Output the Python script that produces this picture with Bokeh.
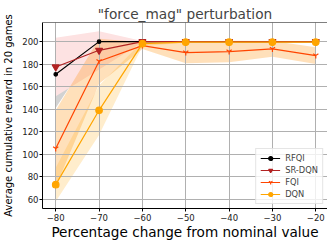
from bokeh.plotting import figure
from bokeh.models import Range1d, Legend, LegendItem, FixedTicker, Span
from bokeh.embed import file_html
from bokeh.resources import INLINE

# ---- data ----
x = [-80, -70, -60, -50, -40, -30, -20]
x_tick_labels = ["\u221280", "\u221270", "\u221260", "\u221250", "\u221240", "\u221230", "\u221220"]
y_ticks = [60, 80, 100, 120, 140, 160, 180, 200]

rfqi = [171, 200, 200, 200, 200, 200, 200]
rfqi_std = [30, 0, 0, 0, 0, 0, 0]
srdqn = [177.5, 192.3, 200, 200, 200, 200, 200]
srdqn_std = [26, 17, 0.5, 0, 0, 0, 0]
fqi = [105, 182.6, 196.5, 190.3, 191.2, 193.5, 187.6]
fqi_std = [34, 20, 3, 9.5, 9.5, 7, 7.5]
dqn = [73, 139, 198.2, 199.5, 199.5, 199.5, 199.5]
dqn_std = [15, 22, 2, 0.5, 0.5, 0.5, 0.5]

names = ["RFQI", "SR-DQN", "FQI", "DQN"]
means = [rfqi, srdqn, fqi, dqn]
stds = [rfqi_std, srdqn_std, fqi_std, dqn_std]
line_colors = ["black", "#b22222", "#ff4500", "#ffa500"]
band_colors = ["#d2d2d2", "#fde2e2", "darkorange", "orange"]
band_alphas = [1.0, 1.0, 0.27, 0.2]
markers = ["circle", "inverted_triangle", "y", "circle"]
msizes = [3.5, 7, 6, 6.5]

FONT = "DejaVu Sans"
Y_END = 217

p = figure(width=327, height=242, output_backend="svg", toolbar_location=None,
           x_range=Range1d(-83.05, -17.3), y_range=Range1d(51.8, Y_END),
           min_border_left=41, min_border_right=0, min_border_top=22, min_border_bottom=33)

p.title.text = '"force_mag" perturbation'
p.title.text_font = FONT
p.title.text_font_size = "13.7px"
p.title.text_font_style = "normal"
p.title.align = "center"
p.title.standoff = 1
p.title.offset = 0

p.background_fill_color = "white"
p.border_fill_color = "white"
p.outline_line_color = None

for ax in (p.xaxis[0], p.yaxis[0]):
    ax.axis_line_color = "black"
    ax.major_tick_line_color = "black"
    ax.major_tick_out = 3
    ax.major_tick_in = 0
    ax.minor_tick_line_color = None
    ax.major_label_text_font = FONT
    ax.major_label_text_font_size = "8.5px"
    ax.major_label_text_color = "#222222"
    ax.axis_label_text_font = FONT
    ax.axis_label_text_font_style = "normal"
    ax.axis_label_text_color = "black"
    ax.major_label_standoff = 1

p.xaxis.ticker = FixedTicker(ticks=x)
p.xaxis.major_label_overrides = {t: l for t, l in zip(x, x_tick_labels)}
p.xaxis.major_label_standoff = 2
p.xaxis.axis_label = "Percentage change from nominal value"
p.xaxis.axis_label_text_font_size = "13.6px"
p.xaxis.axis_label_standoff = 0

p.yaxis.ticker = FixedTicker(ticks=y_ticks)
p.yaxis.axis_label = "Average cumulative reward in 20 games"
p.yaxis.axis_label_text_font_size = "10px"
p.yaxis.axis_label_standoff = 5

p.grid.grid_line_color = "#b0b0b0"
p.grid.grid_line_width = 1

# top spine
p.add_layout(Span(location=Y_END, dimension="width", line_color="black", line_width=1))

# bands (below grid)
for m, s, c, a in zip(means, stds, band_colors, band_alphas):
    lo = [mi - si for mi, si in zip(m, s)]
    hi = [mi + si for mi, si in zip(m, s)]
    p.varea(x=x, y1=lo, y2=hi, fill_color=c, fill_alpha=a, level="image")

items = []
for n, m, c, mk, ms in zip(names, means, line_colors, markers, msizes):
    ln = p.line(x, m, line_color=c, line_width=1.2)
    sc = p.scatter(x, m, marker=mk, size=ms, fill_color=c, line_color=c, line_width=1.2)
    items.append(LegendItem(label=n, renderers=[ln, sc]))

legend = Legend(items=items, location="bottom_right")
legend.label_text_font = FONT
legend.label_text_font_size = "8.3px"
legend.glyph_width = 20
legend.glyph_height = 10
legend.label_height = 10
legend.label_standoff = 5
legend.spacing = 2
legend.padding = 4
legend.margin = 4
legend.border_line_color = "#cccccc"
legend.background_fill_alpha = 0.8
p.add_layout(legend)

open("out.html", "w").write(file_html(p, INLINE))
